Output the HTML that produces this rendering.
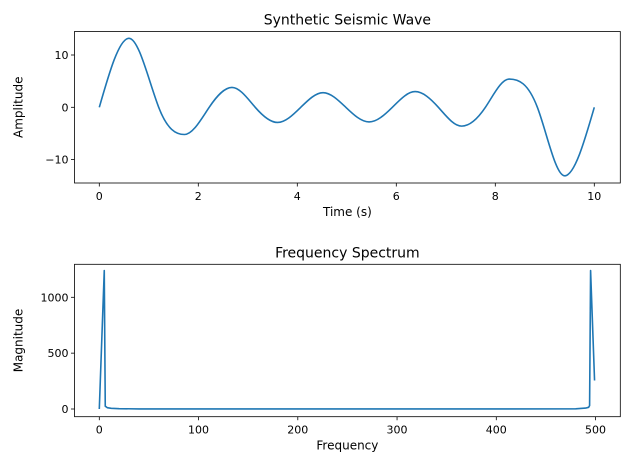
<!DOCTYPE html>
<html><head><meta charset="utf-8"><style>
html,body{margin:0;padding:0;background:#fff}
svg{display:block;font-family:"DejaVu Sans","Liberation Sans",sans-serif}
</style></head><body>
<svg id="c" width="630" height="469" viewBox="0 0 630 469"></svg>
<script>
// Top chart data: time (s) vs amplitude (extrema and zero crossings)
const waveT = [0,0.6,1.2,1.72,2.22,2.68,3.15,3.6,4.07,4.52,4.98,5.45,5.92,6.38,6.85,7.32,7.8,8.28,8.85,9.4,10];
const waveA = [0,13.2,0,-5.2,0,3.8,0,-2.9,0,2.8,0,-2.8,0,3.0,0,-3.6,0,5.4,0,-13.1,0];
const waveXTicks = [0,2,4,6,8,10];
const waveYTicks = [-10,0,10];
// Bottom chart data: frequency vs magnitude
const freqX = [0,5,6,8,12,20,40,100,200,300,400,480,490,493,494,495,499];
const freqM = [0,1240,25,12,6,3,1,0.5,0.3,0.3,0.5,2,8,15,30,1240,255];
const freqXTicks = [0,100,200,300,400,500];
const freqYTicks = [0,500,1000];

const NS="http://www.w3.org/2000/svg";
const svg=document.getElementById('c');
function mk(tag,attrs,parent){const e=document.createElementNS(NS,tag);for(const k in attrs)e.setAttribute(k,attrs[k]);(parent||svg).appendChild(e);return e;}

const tx=v=>99.3+v*49.5, ty=v=>107.3-v*5.23;
const bx=v=>99.3+v*0.9925, by=v=>409-v*0.1117;

function axes(name,L,T,R,B,xt,yt,fx,fy,title,xl,yl){
  const g=mk('g',{});
  
  
  const t=mk('text',{x:(L+R)/2,y:T-7,'text-anchor':'middle','font-size':'14',fill:'#000'},g);
  t.textContent=title;
  
  
  xt.forEach(v=>{const x=fx(v);
    mk('line',{x1:x,x2:x,y1:B,y2:B+3.5,stroke:'#000','stroke-width':0.8},g);
    const l=mk('text',{x:x,y:B+17,'text-anchor':'middle','font-size':'11',fill:'#000'},g);
    l.textContent=v<0?'\u2212'+(-v):v;
    
    
  });
  yt.forEach(v=>{const y=fy(v);
    mk('line',{x1:L-3.5,x2:L,y1:y,y2:y,stroke:'#000','stroke-width':0.8},g);
    const l=mk('text',{x:L-6,y:y+4,'text-anchor':'end','font-size':'11',fill:'#000'},g);
    l.textContent=v<0?'\u2212'+(-v):v;
    
    
  });
  const xa=mk('text',{x:(L+R)/2,y:B+33,'text-anchor':'middle','font-size':'12',fill:'#000'},g);
  xa.textContent=xl;
  
  
  const ya=mk('text',{x:0,y:0,'text-anchor':'middle','font-size':'12',fill:'#000',transform:`translate(${L-52},${(T+B)/2}) rotate(-90)`},g);
  ya.textContent=yl;
  
  
  return g;
}
function frame(L,T,R,B){const r=mk('rect',{x:L,y:T,width:R-L,height:B-T,fill:'none',stroke:'#000','stroke-width':0.8});
  
  }

axes('wave-axes',74.5,31.5,620.3,183,waveXTicks,waveYTicks,tx,ty,'Synthetic Seismic Wave','Time (s)','Amplitude');
axes('spectrum-axes',74.5,264.3,620.3,416.7,freqXTicks,freqYTicks,bx,by,'Frequency Spectrum','Frequency','Magnitude');

// smooth wave: Hermite with zero slope at extrema, chord slope at zero crossings
const P=waveT.map((t,i)=>[tx(t),ty(waveA[i])]);
const n=P.length;
const slope=P.map((p,i)=>{
  if(i===0) return (P[1][1]-p[1])/(P[1][0]-p[0])*1.5;
  if(i===n-1) return (p[1]-P[n-2][1])/(p[0]-P[n-2][0])*1.5;
  if(waveA[i]!==0) return 0;
  return (P[i+1][1]-P[i-1][1])/(P[i+1][0]-P[i-1][0])*1.5;
});
let d=`M${P[0][0]},${P[0][1]}`;
for(let i=0;i<n-1;i++){
  const h=(P[i+1][0]-P[i][0])/3;
  d+=` C${P[i][0]+h},${P[i][1]+slope[i]*h} ${P[i+1][0]-h},${P[i+1][1]-slope[i+1]*h} ${P[i+1][0]},${P[i+1][1]}`;
}
const w=mk('path',{d:d,fill:'none',stroke:'#1f77b4','stroke-width':1.6});



const sp=mk('polyline',{points:freqX.map((f,i)=>bx(f)+','+by(freqM[i])).join(' '),fill:'none',stroke:'#1f77b4','stroke-width':1.6,'stroke-linejoin':'round'});



frame(74.5,31.5,620.3,183);
frame(74.5,264.3,620.3,416.7);
</script>
</body></html>
